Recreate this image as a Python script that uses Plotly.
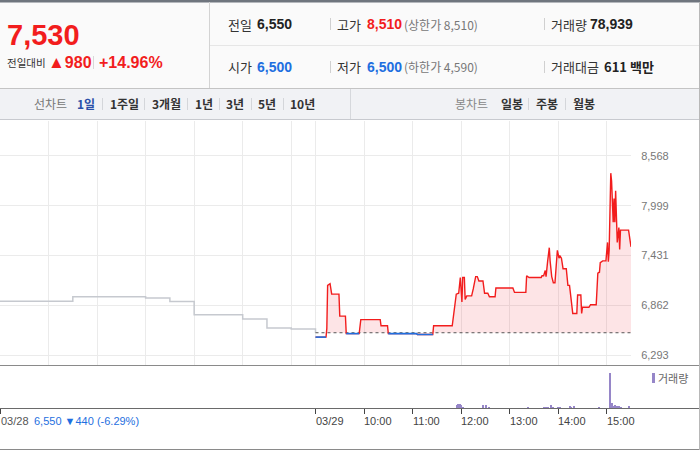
import plotly.graph_objects as go

W, H = 700, 450
BASE = 6550  # previous close

# ---- data -------------------------------------------------------------
prev_times = ["09:00", "10:30", "12:00", "12:30", "13:00", "14:00", "14:30", "15:00", "15:30"]
prev_prices = [6910, 6960, 6945, 6905, 6756, 6706, 6603, 6592, 6550]

today_times = ["09:00", "09:13", "09:14", "09:15", "09:18", "09:20", "09:29", "09:30", "09:37", "09:38",
               "09:54", "09:56", "10:20", "10:21", "10:29", "10:30", "11:05", "11:06", "11:25", "11:26",
               "11:49", "11:52", "11:54", "11:57", "11:59", "12:01", "12:02", "12:04", "12:05", "12:07",
               "12:13", "12:15", "12:18", "12:20", "12:22", "12:27", "12:29", "12:33", "12:35", "12:42",
               "12:43", "13:04", "13:06", "13:20", "13:21", "13:24", "13:39", "13:40", "13:42", "13:44",
               "13:45", "13:47", "13:49", "13:50", "13:52", "13:54", "13:56", "13:58", "13:59", "14:01",
               "14:02", "14:04", "14:06", "14:10", "14:12", "14:14", "14:18", "14:23", "14:24", "14:28",
               "14:29", "14:30", "14:38", "14:40", "14:47", "14:49", "14:51", "14:52", "14:55", "14:59",
               "15:01", "15:02", "15:03", "15:05", "15:06", "15:08", "15:09", "15:10", "15:11", "15:13",
               "15:15", "15:16", "15:17", "15:27", "15:30"]
today_prices = [6500, 6500, 6600, 7090, 7110, 6990, 6990, 6740, 6740, 6540,
                6540, 6700, 6700, 6630, 6630, 6540, 6540, 6530, 6530, 6630,
                6630, 6860, 6990, 7000, 7180, 6900, 7180, 7180, 6930, 6970,
                6970, 7050, 7190, 7190, 7140, 7140, 7000, 7000, 6960, 6960,
                7060, 7060, 7010, 7010, 7200, 7180, 7180, 7200, 7200, 7260,
                7190, 7370, 7520, 7370, 7190, 7120, 7120, 7370, 7490, 7400,
                7430, 7400, 7280, 7280, 7090, 7090, 6770, 6770, 6980, 6980,
                6770, 6840, 6840, 6870, 6870, 7230, 7240, 7350, 7370, 7370,
                7580, 7360, 7490, 8370, 8280, 7810, 8080, 7810, 8170, 7580,
                7750, 7500, 7720, 7720, 7530]

vol_times = ["11:55", "11:56", "11:57", "11:58", "11:59", "12:00", "12:02", "12:27", "12:31", "12:35",
             "13:23", "13:43", "13:45", "13:48", "13:51", "13:54", "14:00", "14:02", "14:15", "14:16",
             "14:19", "14:51", "15:04", "15:05", "15:07", "15:08", "15:10", "15:13", "15:15", "15:18",
             "15:28"]
vol_values = [1500, 2000, 1000, 2000, 2000, 1500, 500, 1500, 1500, 500,
              500, 500, 500, 500, 1500, 500, 500, 500, 1000, 500,
              1000, 500, 18000, 1000, 2500, 1000, 1500, 1000, 1000, 500,
              1000]

ytick_vals = [6293, 6862, 7431, 7999, 8568]
ytick_text = ["6,293", "6,862", "7,431", "7,999", "8,568"]
time_labels = ["03/29", "10:00", "11:00", "12:00", "13:00", "14:00", "15:00"]
time_label_times = ["09:00", "10:00", "11:00", "12:00", "13:00", "14:00", "15:00"]


def hrs(t, day):
    h, m = map(int, t.split(":"))
    return day * 6.5 + (h - 9) + m / 60.0


prev_x = [hrs(t, 0) for t in prev_times]
today_x = [hrs(t, 1) for t in today_times]
vol_x = [hrs(t, 1) for t in vol_times]
label_x = [hrs(t, 1) for t in time_label_times]

FONT = "Liberation Sans, Arial, Noto Sans CJK KR, sans-serif"
KFONT = "Noto Sans CJK KR, Liberation Sans, sans-serif"
RED = "#f21d1d"
BLUE = "#1f6fe0"

fig = go.Figure()

fig.add_trace(go.Scatter(x=prev_x, y=prev_prices, mode="lines", line_shape="hv",
                         line=dict(color="#c6c9cf", width=1.5), hoverinfo="skip"))
fig.add_trace(go.Scatter(x=today_x, y=[BASE] * len(today_x), mode="lines",
                         line=dict(width=0), hoverinfo="skip"))
fig.add_trace(go.Scatter(x=today_x, y=[max(v, BASE) for v in today_prices], mode="lines",
                         line=dict(width=0), fill="tonexty",
                         fillcolor="rgba(244,67,80,0.14)", hoverinfo="skip"))
fig.add_trace(go.Scatter(x=[today_x[0], today_x[-1]], y=[BASE, BASE], mode="lines",
                         line=dict(color="#555", width=1, dash="dot"), hoverinfo="skip"))
fig.add_trace(go.Scatter(x=today_x, y=today_prices, mode="lines",
                         line=dict(color=RED, width=1.4), hoverinfo="skip"))
fig.add_trace(go.Scatter(x=today_x, y=[v if v < BASE else None for v in today_prices],
                         mode="lines", connectgaps=False,
                         line=dict(color=BLUE, width=1.6), hoverinfo="skip"))
fig.add_trace(go.Bar(x=vol_x, y=vol_values, xaxis="x2", yaxis="y2", width=1.3 / 60,
                     marker=dict(color="#9686c8", line=dict(width=0)), hoverinfo="skip"))

# ---- shapes ------------------------------------------------------------
shapes = []


def rect(x0, y0, x1, y1, fill, layer="below"):
    shapes.append(dict(type="rect", xref="paper", yref="paper", x0=x0 / W, x1=x1 / W,
                       y0=1 - y1 / H, y1=1 - y0 / H, fillcolor=fill, line=dict(width=0), layer=layer))


def hline(y, x0, x1, color, width=1):
    shapes.append(dict(type="line", xref="paper", yref="paper", x0=x0 / W, x1=x1 / W,
                       y0=1 - y / H, y1=1 - y / H, line=dict(color=color, width=width)))


def vline(x, y0, y1, color, width=1):
    shapes.append(dict(type="line", xref="paper", yref="paper", x0=x / W, x1=x / W,
                       y0=1 - y1 / H, y1=1 - y0 / H, line=dict(color=color, width=width)))


rect(0, 0, W, 88.5, "#fafafa")
rect(0, 0, W, 2.5, "#6f757e", layer="above")
rect(0, 88.5, W, 119.5, "#f1f2f5")
vline(209.5, 2, 88, "#d3d3d3")
hline(45.5, 210, W, "#e6e6e6")
hline(88.5, 0, W, "#c4c4c4")
hline(119.5, 0, W, "#c8cacf")
vline(350.5, 89, 119, "#d6d8dc")
for sx in [330.5, 544.5]:
    vline(sx, 18, 30, "#d0d0d0")
    vline(sx, 61, 73, "#d0d0d0")
vline(93.5, 56, 69, "#d8d8d8")
for sx in [102.5, 144.5, 187.5, 219.5, 251.5, 283.5, 528.5, 565.5]:
    vline(sx, 98, 110, "#d4d6da")
hline(365.5, 0, W, "#8a8a8a")
hline(408.5, 0, W, "#6a6a6a")
hline(449.5, 0, W, "#8a8a8a")
vline(699.5, 2, H, "#b8b8b8")
rect(652, 373, 655, 383, "#9686c8", layer="above")

# ---- annotations -------------------------------------------------------
ann = []


def txt(x, y, s, size=12, color="#333", family=FONT, anchor="left", xref="paper"):
    ann.append(dict(x=(x / W if xref == "paper" else x), y=1 - y / H, xref=xref, yref="paper",
                    text=s, showarrow=False, xanchor=anchor, yanchor="middle", xshift=-2,
                    font=dict(size=size, color=color, family=family)))


# left price box
txt(7, 35, "<b>7,530</b>", 29, RED)
txt(7, 62, "전일대비", 10.5, "#333", KFONT)
txt(48, 62, "<b><span style='font-size:17px'>▲</span>980</b>", 16, RED)
txt(99, 62, "<b>+14.96%</b>", 16, RED)

# right info grid
txt(228, 24, "전일", 13, "#333", KFONT)
txt(257, 24, "<b>6,550</b>", 14, "#222")
txt(337, 24, "고가", 13, "#333", KFONT)
txt(367, 24, "<b>8,510</b>", 14, RED)
txt(404, 24, "(상한가 8,510)", 12, "#777", KFONT)
txt(551, 24, "거래량", 13, "#333", KFONT)
txt(590, 24, "<b>78,939</b>", 14, "#222")
txt(228, 67, "시가", 13, "#333", KFONT)
txt(257, 67, "<b>6,500</b>", 14, BLUE)
txt(337, 67, "저가", 13, "#333", KFONT)
txt(367, 67, "<b>6,500</b>", 14, BLUE)
txt(404, 67, "(하한가 4,590)", 12, "#777", KFONT)
txt(551, 67, "거래대금", 13, "#333", KFONT)
txt(604, 67, "<b>611</b> <b>백만</b>", 13, "#222", KFONT)

# tab bar
txt(34, 104, "선차트", 12, "#777", KFONT)
txt(77, 104, "<b>1일</b>", 12, "#2a4fa8", KFONT)
for x, s in [(110, "1주일"), (152, "3개월"), (195, "1년"), (226, "3년"), (258, "5년"), (290, "10년"),
             (501, "일봉"), (536, "주봉"), (573, "월봉")]:
    txt(x, 104, "<b>" + s + "</b>", 12, "#333", KFONT)
txt(455, 104, "봉차트", 12, "#888", KFONT)

# bottom axis labels
txt(1, 421, "03/28", 11, "#555")
txt(34, 421, "6,550 ▼440 (-6.29%)", 11, BLUE)
for xv, s in zip(label_x, time_labels):
    txt(xv, 421, s, 11, "#444", xref="x2")

txt(658, 378, "거래량", 11, "#666", KFONT)

fig.update_layout(
    width=W, height=H, autosize=False,
    margin=dict(l=0, r=0, t=0, b=0),
    paper_bgcolor="white", plot_bgcolor="white",
    showlegend=False, bargap=0,
    shapes=shapes, annotations=ann,
    xaxis=dict(domain=[0, 631 / W], range=[0, 13], tickvals=[1, 2, 3, 4, 5, 6] + label_x,
               showticklabels=False, ticks="", showgrid=True, gridcolor="#ebebeb",
               zeroline=False, showline=False, anchor="y", fixedrange=True),
    yaxis=dict(domain=[1 - 365 / H, 1 - 121 / H], range=[6182, 8965], side="right",
               tickvals=ytick_vals, ticktext=ytick_text, showgrid=True, gridcolor="#ebebeb",
               zeroline=False, ticks="outside", ticklen=7, tickcolor="rgba(0,0,0,0)",
               tickfont=dict(size=11, color="#777", family=FONT), anchor="x", fixedrange=True),
    xaxis2=dict(domain=[0, 631 / W], range=[0, 13], anchor="y2", tickvals=[0] + label_x,
                showticklabels=False, ticks="outside", ticklen=5, tickcolor="#444",
                showgrid=False, zeroline=False, showline=False, fixedrange=True),
    yaxis2=dict(domain=[1 - 408 / H, 1 - 366 / H], range=[0, 21500], visible=False, fixedrange=True),
)

fig.write_html("out.html", config={"displayModeBar": False},
               post_script="document.body.style.margin='0';")
